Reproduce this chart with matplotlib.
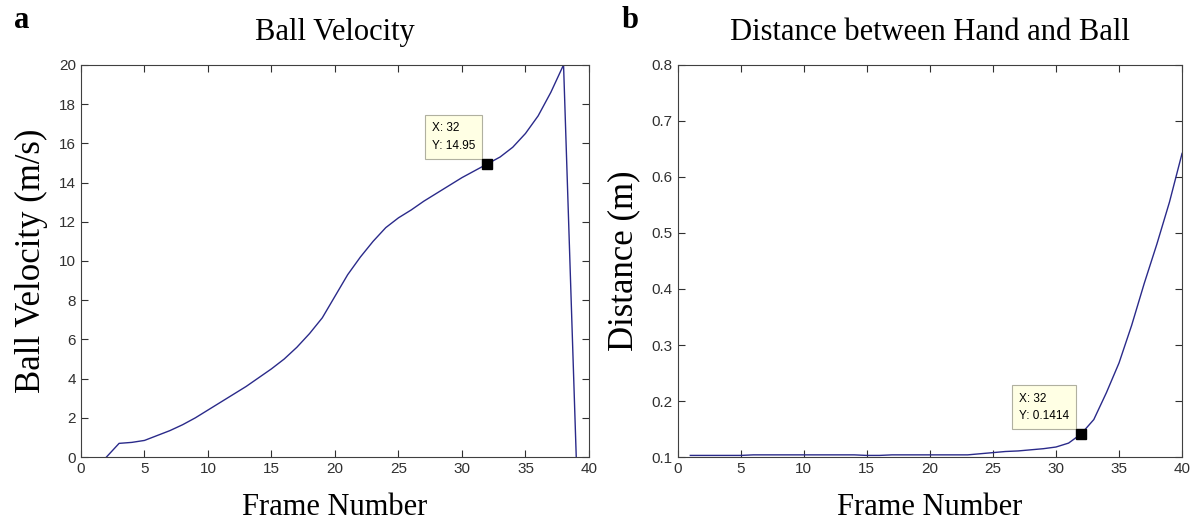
import matplotlib
matplotlib.use('Agg')
import matplotlib.pyplot as plt

# panel a: ball velocity per frame
vel_frames = [2, 3, 4, 5, 6, 7, 8, 9, 10, 11, 12, 13, 14, 15, 16, 17, 18, 19, 20,
              21, 22, 23, 24, 25, 26, 27, 28, 29, 30, 31, 32, 33, 34, 35, 36, 37, 38, 39]
velocity = [0.0, 0.7, 0.75, 0.85, 1.1, 1.35, 1.65, 2.0, 2.4, 2.8, 3.2, 3.6, 4.05, 4.5,
            5.0, 5.6, 6.3, 7.1, 8.2, 9.3, 10.2, 11.0, 11.7, 12.2, 12.6, 13.05, 13.45,
            13.85, 14.25, 14.6, 14.95, 15.3, 15.8, 16.5, 17.4, 18.6, 20.0, 0.0]

# panel b: hand-ball distance per frame
dist_frames = list(range(1, 41))
distance = [0.103, 0.103, 0.103, 0.103, 0.103, 0.104, 0.104, 0.104, 0.104, 0.104,
            0.104, 0.104, 0.104, 0.104, 0.103, 0.103, 0.104, 0.104, 0.104, 0.104,
            0.104, 0.104, 0.104, 0.106, 0.108, 0.110, 0.111, 0.113, 0.115, 0.118,
            0.125, 0.1414, 0.167, 0.215, 0.268, 0.335, 0.41, 0.48, 0.555, 0.642]

tip_x = 32
tip_vel = 14.95
tip_dist = 0.1414

line_col = '#2a2a8a'
tick_col = '#303030'

fig = plt.figure(figsize=(11.91, 5.23), dpi=100)
ax1 = fig.add_axes([0.068, 0.126, 0.4265, 0.750])
ax2 = fig.add_axes([0.569, 0.126, 0.4235, 0.750])


def style(ax):
    ax.tick_params(direction='in', top=True, right=True, length=5, width=0.8,
                   colors=tick_col, labelsize=11)
    for lab in ax.get_xticklabels() + ax.get_yticklabels():
        lab.set_family('Liberation Sans')
    for s in ax.spines.values():
        s.set_color('#404040')
        s.set_linewidth(0.8)


def data_tip(ax, x, y, text):
    ax.plot([x], [y], 's', color='black', markersize=6.5, zorder=5)
    ax.annotate(text, xy=(x, y), xytext=(-12, 12), textcoords='offset pixels',
                ha='right', va='bottom', multialignment='left', fontsize=8.5,
                family='Liberation Sans', linespacing=1.6,
                bbox=dict(boxstyle='square,pad=0.6', fc='#ffffe4', ec='#b0b0a0', lw=0.8))


serif = 'Liberation Serif'

ax1.plot(vel_frames, velocity, color=line_col, lw=1)
ax1.set_xlim(0, 40)
ax1.set_ylim(0, 20)
ax1.set_xticks(range(0, 41, 5))
ax1.set_yticks(range(0, 21, 2))
style(ax1)
data_tip(ax1, tip_x, tip_vel, 'X: 32\nY: 14.95')
ax1.set_title('Ball Velocity', family=serif, fontsize=22, pad=18)
ax1.set_xlabel('Frame Number', family=serif, fontsize=22, labelpad=12)
ax1.set_ylabel('Ball Velocity (m/s)', family=serif, fontsize=25, labelpad=8)

ax2.plot(dist_frames, distance, color=line_col, lw=1)
ax2.set_xlim(0, 40)
ax2.set_ylim(0.1, 0.8)
ax2.set_xticks(range(0, 41, 5))
ax2.set_yticks([0.1, 0.2, 0.3, 0.4, 0.5, 0.6, 0.7, 0.8])
style(ax2)
data_tip(ax2, tip_x, tip_dist, 'X: 32\nY: 0.1414')
ax2.set_title('Distance between Hand and Ball', family=serif, fontsize=22, pad=18)
ax2.set_xlabel('Frame Number', family=serif, fontsize=22, labelpad=12)
ax2.set_ylabel('Distance (m)', family=serif, fontsize=25, labelpad=8)

fig.text(0.012, 0.96, 'a', family=serif, fontsize=22, fontweight='bold', va='center')
fig.text(0.522, 0.96, 'b', family=serif, fontsize=22, fontweight='bold', va='center')

fig.savefig('out.png', dpi=100)
